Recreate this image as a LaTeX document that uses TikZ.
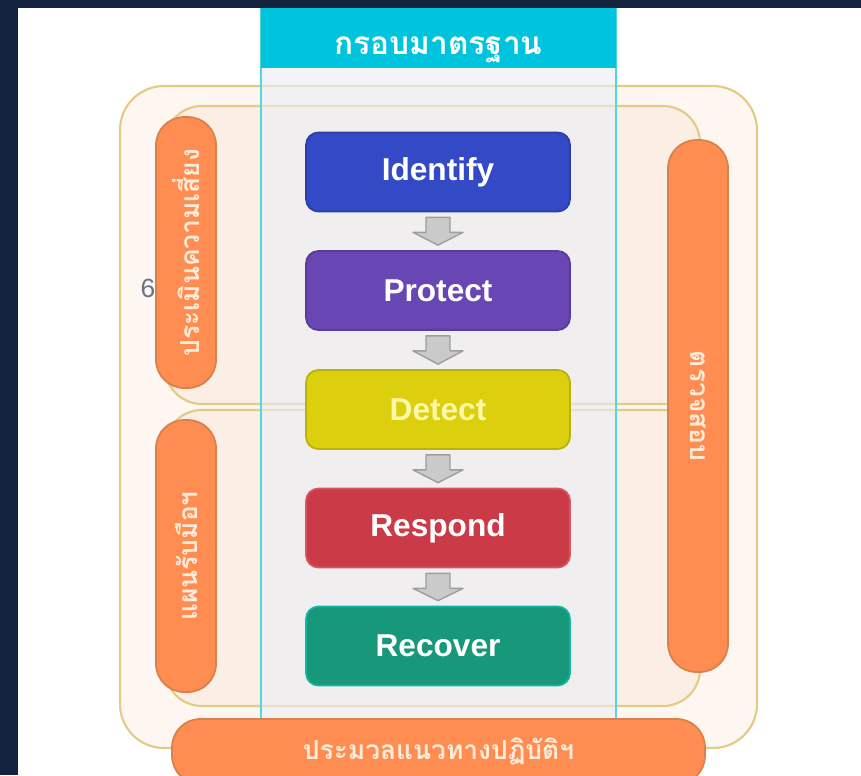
\documentclass[tikz,border=0pt]{standalone}
\usepackage{fontspec}
\setsansfont{Liberation Sans}
\newfontfamily\thaifont[Script=Thai]{Loma}
\usetikzlibrary{calc}

\definecolor{navy}{HTML}{13233F}
\definecolor{outerfill}{HTML}{FDF6F1}
\definecolor{innerfill}{HTML}{FBEEE5}
\definecolor{goldline}{HTML}{E3CB86}
\definecolor{colfill}{HTML}{EAEEF6}
\definecolor{cyanhead}{HTML}{00C3DD}
\definecolor{cyanline}{HTML}{4FD8E2}
\definecolor{pillorange}{HTML}{FF8D52}
\definecolor{pilledge}{HTML}{D7814F}
\definecolor{pilltext}{HTML}{FDEBD9}
\definecolor{idblue}{HTML}{3349C6}
\definecolor{prpurple}{HTML}{6847B5}
\definecolor{deyellow}{HTML}{DCCF0E}
\definecolor{detext}{HTML}{FFF8A8}
\definecolor{rered}{HTML}{CB3B47}
\definecolor{rcgreen}{HTML}{17987A}
\definecolor{arrowgray}{HTML}{CACACA}
\definecolor{arrowedge}{HTML}{9E9E9E}
\definecolor{numgray}{HTML}{687383}

\begin{document}
\begin{tikzpicture}[x=0.02cm, y=-0.02cm,
  stage/.style={rounded corners=7pt, minimum width=5.28cm, minimum height=1.58cm,
    text=white, line width=1pt, font=\sffamily\bfseries\fontsize{18}{20}\selectfont},
  pill/.style={fill=pillorange, draw=pilledge, line width=1pt, rounded corners=16pt,
    text=pilltext, font=\thaifont\bfseries\fontsize{15}{17}\selectfont},
  gold/.style={draw=goldline, line width=1.2pt},
  grayarrow/.style={fill=arrowgray, draw=arrowedge, line width=0.8pt, line join=round}]

\clip (0,0) rectangle (861,775);

%\draw[step=1cm, gray!50] (0,0) grid (861,775);

% page
\fill[navy] (0,0) rectangle (861,775);
\fill[white] (18,8) rectangle (861,775);

% frames
\draw[gold, fill=outerfill, rounded corners=25pt] (120,86) rectangle (757,748);
\draw[gold, fill=innerfill, rounded corners=21pt] (165,106) rectangle (700,404);
\draw[gold, fill=innerfill, rounded corners=21pt] (165,410) rectangle (700,706);

% standard column
\fill[colfill, fill opacity=.6] (261,68) rectangle (616,718);
\draw[cyanline, line width=1.2pt] (261,8) -- (261,718);
\draw[cyanline, line width=1.2pt] (616,8) -- (616,718);
\node[fill=cyanhead, minimum width=7.1cm, minimum height=1.2cm, inner sep=0pt,
  text=white, font=\thaifont\bfseries\fontsize{18}{20}\selectfont] (header) at (438.5,38)
  {\raisebox{-0.33cm}[0pt][0pt]{กรอบมาตรฐาน}};

% side bars
\node[pill, rotate=90, minimum width=5.42cm, minimum height=1.2cm] (risk) at (186,252.5) {ประเมินความเสี่ยง};
\node[pill, rotate=90, minimum width=5.44cm, minimum height=1.2cm] (plan) at (186,556) {แผนรับมือฯ};
\node[pill, rotate=-90, minimum width=10.64cm, minimum height=1.2cm] (audit) at (698,406) {ตรวจสอบ};
\node[pill, minimum width=10.66cm, minimum height=1.3cm] (code) at (438.5,751.5) {ประมวลแนวทางปฏิบัติฯ};

\node[text=numgray, font=\sffamily\fontsize{15}{15}\selectfont] (pagenum) at (148,288) {6};

% stages
\node[stage, fill=idblue, draw=idblue!85!black] (identify) at (438,172) {Identify};
\node[stage, fill=prpurple, draw=prpurple!85!black] (protect) at (438,290.5) {Protect};
\node[stage, fill=deyellow, draw=deyellow!85!black, text=detext] (detect) at (438,409.5) {Detect};
\node[stage, fill=rered, draw=rered!85!white] (respond) at (438,528) {Respond};
\node[stage, fill=rcgreen, draw=rcgreen!70!cyan] (recover) at (438,646) {Recover};

\foreach \a/\b in {identify/protect, protect/detect, detect/respond, respond/recover}
\draw[grayarrow] ($(\a.south)+(-12,5)$) -- ($(\a.south)+(12,5)$) -- ($(\a.south)+(12,20)$)
  -- ($(\a.south)+(25,20)$) -- ($(\b.north)+(0,-5)$) -- ($(\a.south)+(-25,20)$)
  -- ($(\a.south)+(-12,20)$) -- cycle;

\end{tikzpicture}
\end{document}
